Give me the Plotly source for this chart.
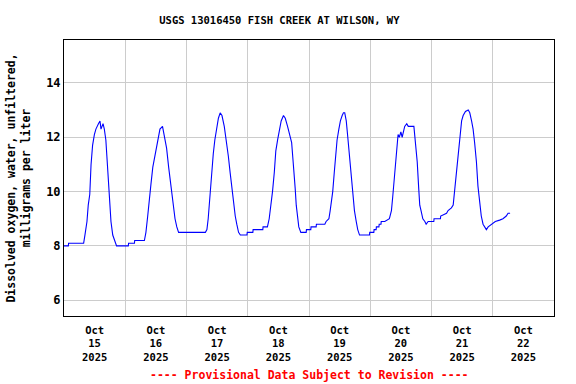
import plotly.graph_objects as go
from datetime import datetime, timedelta

# Hours since 2025-10-15 00:00 (local) and dissolved oxygen values (mg/L)
hours = [0, 1.7, 1.8, 7.7, 8.2, 9.0, 9.5, 10.1, 10.6, 11.2, 11.9, 12.5, 13.5, 14.1, 14.5, 15.3, 15.8,
         16.4, 17.2, 17.9, 18.4, 19.1, 19.7, 20.6, 25.2, 25.3, 27.6, 27.7,
         31.5, 32.1, 32.8, 33.4, 34.1, 34.8, 35.6, 36.4, 37.1, 37.6, 38.6, 39.3, 40.2, 41.0, 41.9,
         42.7, 43.5, 44.2, 44.9, 55.4, 56.0, 56.5, 56.9, 57.3, 57.8, 58.5, 59.1,
         59.8, 60.5, 61.2, 61.9, 62.8, 63.6, 64.4, 65.1, 65.8, 66.4, 67.1, 67.7, 68.4, 69.1,
         71.7, 71.8, 74.0, 74.1, 77.9, 78.0, 79.7, 80.4, 81.0, 81.7, 82.4, 83.0, 83.7, 84.4,
         85.1, 86.0, 86.7, 87.6, 88.5, 89.2, 89.7, 90.2, 90.6, 91.0, 91.5, 92.0, 92.8,
         94.9, 95.0, 96.7, 96.8, 98.8, 98.9, 102.2, 102.7, 103.8, 104.3, 104.8, 105.3, 105.9,
         106.4, 107.0, 107.7, 108.3, 109.0, 109.5, 110.0, 110.6, 111.2, 111.9, 112.5, 113.2,
         113.8, 114.5, 115.1, 115.8, 119.7, 119.8, 121.4, 121.5, 122.3, 122.4, 123.4, 123.5,
         124.2, 124.3, 125.7, 127.5, 128.3, 128.8, 129.4, 129.9, 130.4, 130.9, 131.4, 132.0,
         132.5, 133.0, 133.5, 134.3, 134.9, 137.1, 137.7, 138.4, 139.0, 139.4, 139.9, 140.6,
         141.4, 141.9, 142.7, 144.9, 145.0, 147.5, 147.6, 149.9, 150.5, 151.8, 152.5, 152.8,
         153.2, 153.7, 154.2, 154.7, 155.3, 155.8, 156.4, 157.3, 158.4, 159.0, 159.7, 160.3,
         160.9, 161.6, 162.2, 162.9, 163.5, 164.2, 164.8, 165.5, 166.2, 167.7, 169.0, 170.7,
         172.0, 173.3, 174.0, 174.8]
do_mgl = [8.0, 8.0, 8.1, 8.1, 8.4, 8.9, 9.5, 9.9, 11.0, 11.7, 12.1, 12.3, 12.5, 12.6, 12.3, 12.5, 12.3,
          11.9, 10.7, 9.5, 8.9, 8.4, 8.2, 8.0, 8.0, 8.1, 8.1, 8.2,
          8.2, 8.5, 9.1, 9.8, 10.3, 10.9, 11.3, 11.7, 12.0, 12.3, 12.4, 12.0, 11.6, 10.9, 10.2,
          9.5, 9.0, 8.7, 8.5, 8.5, 8.6, 9.0, 9.5, 10.0, 10.7, 11.4, 11.9,
          12.4, 12.7, 12.9, 12.8, 12.4, 11.9, 11.3, 10.7, 10.1, 9.6, 9.1, 8.8, 8.5, 8.4,
          8.4, 8.5, 8.5, 8.6, 8.6, 8.7, 8.7, 9.0, 9.4, 10.0, 10.7, 11.5, 11.9, 12.3,
          12.6, 12.8, 12.7, 12.4, 12.1, 11.8, 11.2, 10.7, 10.1, 9.5, 9.0, 8.7, 8.5,
          8.5, 8.6, 8.6, 8.7, 8.7, 8.8, 8.8, 8.9, 9.0, 9.3, 9.6, 10.0, 10.7,
          11.3, 11.9, 12.3, 12.6, 12.8, 12.9, 12.9, 12.6, 12.0, 11.3, 10.6, 9.9,
          9.3, 8.9, 8.6, 8.4, 8.4, 8.5, 8.5, 8.6, 8.6, 8.7, 8.7, 8.8,
          8.8, 8.9, 8.9, 9.0, 9.3, 9.8, 10.5, 11.1, 11.6, 12.1, 12.0, 12.2,
          12.0, 12.2, 12.4, 12.5, 12.4, 12.4, 11.9, 11.1, 10.1, 9.5, 9.3, 9.0,
          8.9, 8.8, 8.9, 8.9, 9.0, 9.0, 9.1, 9.2, 9.3, 9.4, 9.5, 9.8,
          10.1, 10.7, 11.3, 11.8, 12.3, 12.6, 12.8, 12.95, 13.0, 12.9, 12.6, 12.3,
          11.8, 11.1, 10.2, 9.6, 9.1, 8.8, 8.7, 8.6, 8.7, 8.8, 8.9, 8.95,
          9.0, 9.1, 9.2, 9.2]

day_labels = ["Oct<br>15<br>2025", "Oct<br>16<br>2025", "Oct<br>17<br>2025", "Oct<br>18<br>2025",
              "Oct<br>19<br>2025", "Oct<br>20<br>2025", "Oct<br>21<br>2025", "Oct<br>22<br>2025"]
y_ticks = [6, 8, 10, 12, 14]

start = datetime(2025, 10, 15)
times = [start + timedelta(hours=h) for h in hours]
label_pos = [start + timedelta(days=i, hours=12) for i in range(len(day_labels))]
grid_pos = [start + timedelta(days=i) for i in range(1, 8)]

FONT = "DejaVu Sans Mono"

fig = go.Figure()
fig.add_trace(go.Scatter(x=times, y=do_mgl, mode="lines",
                         line=dict(color="#0000ff", width=1.1), hoverinfo="skip"))

fig.update_layout(
    width=576, height=384,
    margin=dict(l=64, r=22, t=40, b=68, autoexpand=False),
    paper_bgcolor="white", plot_bgcolor="white",
    showlegend=False,
    title=dict(text="USGS 13016450 FISH CREEK AT WILSON, WY",
               x=0.485, xanchor="center", xref="container",
               y=1 - 20 / 384, yanchor="middle", yref="container",
               font=dict(family=FONT, size=10.5, color="black", weight="bold")),
    font=dict(family=FONT, color="black"),
)

fig.update_xaxes(
    type="date",
    range=[start, start + timedelta(days=8)],
    tickmode="array", tickvals=label_pos, ticktext=day_labels,
    showgrid=False, ticks="", zeroline=False,
    showline=True, linecolor="black", linewidth=1, mirror=True,
    tickfont=dict(family=FONT, size=10.5, weight="bold", color="black"),
    ticklabelstandoff=4,
    minor=dict(tickmode="array", tickvals=grid_pos, showgrid=True,
               gridcolor="#cccccc", gridwidth=1, ticks=""),
)

fig.update_yaxes(
    range=[5.42, 15.58],
    tickmode="array", tickvals=y_ticks, ticktext=[str(v) for v in y_ticks],
    showgrid=True, gridcolor="#cccccc", gridwidth=1, ticks="", zeroline=False,
    showline=True, linecolor="black", linewidth=1, mirror=True,
    tickfont=dict(family=FONT, size=12, weight="bold", color="black"),
    title=dict(text="Dissolved oxygen, water, unfiltered,<br>milligrams per liter",
               font=dict(family=FONT, size=11.5, weight="bold", color="black"),
               standoff=13),
)

fig.add_annotation(text="---- Provisional Data Subject to Revision ----",
                   xref="paper", yref="paper", x=0.5, y=-(375 - 316) / 276,
                   xanchor="center", yanchor="middle", showarrow=False,
                   font=dict(family=FONT, size=11.5, weight="bold", color="#ff0000"))

fig.write_html("out.html", config={"displayModeBar": False},
               post_script="document.body.style.margin='0';document.body.style.padding='0';")
